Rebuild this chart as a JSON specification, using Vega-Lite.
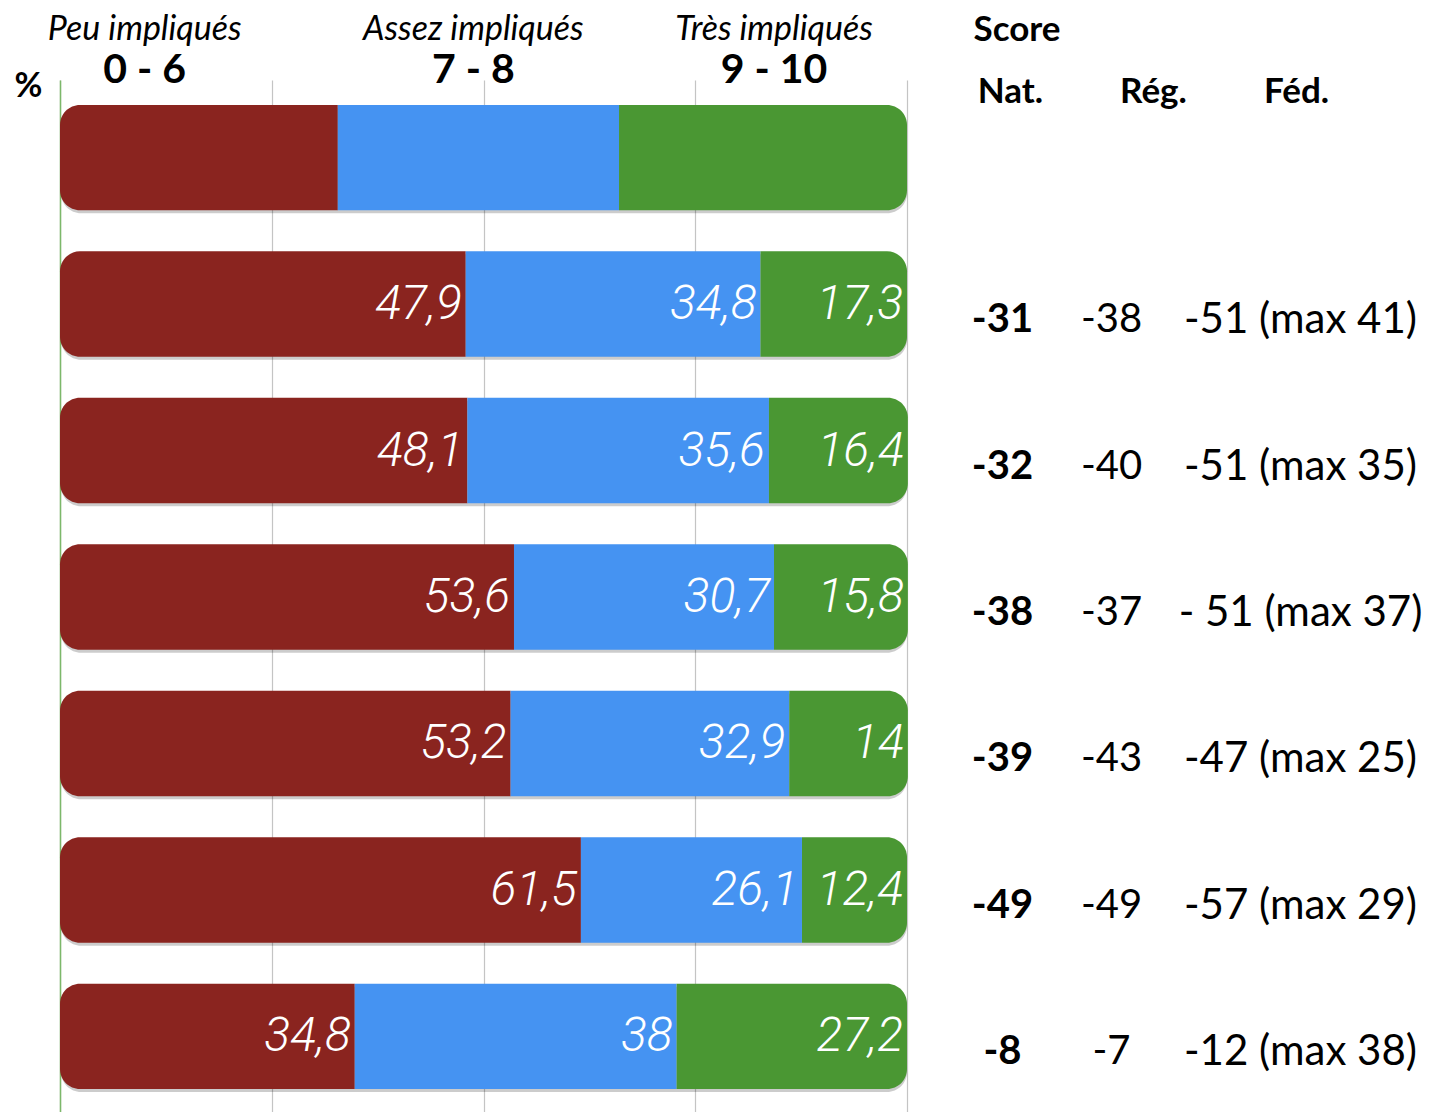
{
  "$schema": "https://vega.github.io/schema/vega-lite/v6.json",
  "padding": {"left": 14, "top": 12, "right": 0, "bottom": 0},
  "spacing": 31,
  "config": {
    "view": {"stroke": null},
    "font": "Lato",
    "locale": {"number": {"decimal": ",", "thousands": " ", "grouping": [3], "currency": ["", " €"], "minus": "-"}}
  },
  "datasets": {
    "bars": [
      {"row": 0, "level": "0 - 6", "order": 1, "pct": 32.8},
      {"row": 0, "level": "7 - 8", "order": 2, "pct": 33.2},
      {"row": 0, "level": "9 - 10", "order": 3, "pct": 34.0},
      {"row": 1, "level": "0 - 6", "order": 1, "pct": 47.9},
      {"row": 1, "level": "7 - 8", "order": 2, "pct": 34.8},
      {"row": 1, "level": "9 - 10", "order": 3, "pct": 17.3},
      {"row": 2, "level": "0 - 6", "order": 1, "pct": 48.1},
      {"row": 2, "level": "7 - 8", "order": 2, "pct": 35.6},
      {"row": 2, "level": "9 - 10", "order": 3, "pct": 16.4},
      {"row": 3, "level": "0 - 6", "order": 1, "pct": 53.6},
      {"row": 3, "level": "7 - 8", "order": 2, "pct": 30.7},
      {"row": 3, "level": "9 - 10", "order": 3, "pct": 15.8},
      {"row": 4, "level": "0 - 6", "order": 1, "pct": 53.2},
      {"row": 4, "level": "7 - 8", "order": 2, "pct": 32.9},
      {"row": 4, "level": "9 - 10", "order": 3, "pct": 14},
      {"row": 5, "level": "0 - 6", "order": 1, "pct": 61.5},
      {"row": 5, "level": "7 - 8", "order": 2, "pct": 26.1},
      {"row": 5, "level": "9 - 10", "order": 3, "pct": 12.4},
      {"row": 6, "level": "0 - 6", "order": 1, "pct": 34.8},
      {"row": 6, "level": "7 - 8", "order": 2, "pct": 38},
      {"row": 6, "level": "9 - 10", "order": 3, "pct": 27.2}
    ],
    "scores": [
      {"row": 1, "nat": -31, "reg": -38, "fed": "-51 (max 41)"},
      {"row": 2, "nat": -32, "reg": -40, "fed": "-51 (max 35)"},
      {"row": 3, "nat": -38, "reg": -37, "fed": "- 51 (max 37)"},
      {"row": 4, "nat": -39, "reg": -43, "fed": "-47 (max 25)"},
      {"row": 5, "nat": -49, "reg": -49, "fed": "-57 (max 29)"},
      {"row": 6, "nat": -8, "reg": -7, "fed": "-12 (max 38)"}
    ],
    "headL": [
      {"group": "Peu impliqués", "range": "0 - 6", "pos": 10},
      {"group": "Assez impliqués", "range": "7 - 8", "pos": 48.8},
      {"group": "Très impliqués", "range": "9 - 10", "pos": 84.3}
    ],
    "headR": [
      {"col": "Nat."},
      {"col": "Rég."},
      {"col": "Féd."}
    ]
  },
  "hconcat": [
    {
      "width": 847,
      "height": 1034,
      "data": {"name": "bars"},
      "transform": [
        {"stack": "pct", "groupby": ["row"], "sort": [{"field": "order", "order": "ascending"}], "as": ["x0", "x1"]}
      ],
      "encoding": {
        "y": {
          "field": "row", "type": "ordinal",
          "scale": {"type": "band", "domain": [0, 1, 2, 3, 4, 5, 6], "paddingInner": 0.28, "paddingOuter": 0.17},
          "axis": {"labels": false, "ticks": false, "domain": true, "domainColor": "#7cb86a", "domainWidth": 1.5, "title": "%", "titleAngle": 0, "titleX": -32, "titleY": 6, "titleAlign": "center", "titleBaseline": "middle", "titleFontSize": 34, "titleFontWeight": "bold", "titleFont": "Lato", "titleColor": "#000"}
        }
      },
      "layer": [
        {
          "transform": [{"filter": "datum.order == 1"}],
          "mark": {"type": "bar", "cornerRadius": 20, "color": "#000000", "opacity": 0.2, "yOffset": 3, "xOffset": 1},
          "encoding": {
            "x": {"datum": 0, "type": "quantitative", "scale": {"domain": [0, 100], "nice": false, "zero": false},
              "axis": {"values": [0, 25, 50, 75, 100], "grid": true, "gridColor": "#c4c4c4", "gridWidth": 1.2, "labels": false, "ticks": false, "domain": false, "title": null}},
            "x2": {"datum": 100}
          }
        },
        {
          "transform": [{"filter": "datum.order == 1"}],
          "mark": {"type": "bar", "cornerRadiusTopLeft": 20, "cornerRadiusBottomLeft": 20},
          "encoding": {
            "x": {"field": "x0", "type": "quantitative"},
            "x2": {"field": "x1"},
            "color": {"field": "level", "type": "nominal", "scale": {"domain": ["0 - 6", "7 - 8", "9 - 10"], "range": ["#8A241F", "#4593F2", "#4A9733"]}, "legend": null}
          }
        },
        {
          "transform": [{"filter": "datum.order == 2"}],
          "mark": {"type": "bar"},
          "encoding": {
            "x": {"field": "x0", "type": "quantitative"},
            "x2": {"field": "x1"},
            "color": {"field": "level", "type": "nominal", "legend": null}
          }
        },
        {
          "transform": [{"filter": "datum.order == 3"}],
          "mark": {"type": "bar", "cornerRadiusTopRight": 20, "cornerRadiusBottomRight": 20},
          "encoding": {
            "x": {"field": "x0", "type": "quantitative"},
            "x2": {"field": "x1"},
            "color": {"field": "level", "type": "nominal", "legend": null}
          }
        },
        {
          "transform": [{"filter": "datum.row > 0"}],
          "mark": {"type": "text", "align": "right", "baseline": "middle", "dx": -4, "dy": 1, "color": "#ffffff", "font": "Liberation Sans Narrow, Roboto", "fontStyle": "italic", "fontWeight": 300, "fontSize": 48},
          "encoding": {
            "x": {"field": "x1", "type": "quantitative"},
            "text": {"field": "pct", "type": "quantitative", "format": ".1~f"}
          }
        },
        {
          "data": {"name": "headL"},
          "mark": {"type": "text", "align": "center", "baseline": "middle", "dy": -128, "font": "Lato", "fontStyle": "italic", "fontSize": 34, "color": "#000"},
          "encoding": {
            "y": {"datum": 0, "type": "ordinal"},
            "x": {"field": "pos", "type": "quantitative"},
            "text": {"field": "group"}
          }
        },
        {
          "data": {"name": "headL"},
          "mark": {"type": "text", "align": "center", "baseline": "middle", "dy": -87, "font": "Lato", "fontWeight": "bold", "fontSize": 41, "color": "#000"},
          "encoding": {
            "y": {"datum": 0, "type": "ordinal"},
            "x": {"field": "pos", "type": "quantitative"},
            "text": {"field": "range"}
          }
        }
      ]
    },
    {
      "width": 429,
      "height": 1034,
      "data": {"name": "scores"},
      "encoding": {
        "y": {"field": "row", "type": "ordinal", "scale": {"type": "band", "domain": [0, 1, 2, 3, 4, 5, 6], "paddingInner": 0.28, "paddingOuter": 0.17}, "axis": null}
      },
      "layer": [
        {
          "mark": {"type": "text", "align": "center", "baseline": "middle", "dx": -8, "dy": 16, "fontSize": 40, "fontWeight": "bold", "font": "Lato", "color": "#000"},
          "encoding": {
            "x": {"datum": "Nat.", "type": "nominal", "scale": {"type": "point", "domain": ["Nat.", "Rég.", "Féd."], "padding": 0.5}, "axis": null},
            "text": {"field": "nat", "type": "quantitative", "format": "d"}
          }
        },
        {
          "mark": {"type": "text", "align": "center", "baseline": "middle", "dx": -42, "dy": 16, "fontSize": 40, "font": "Lato", "color": "#000"},
          "encoding": {
            "x": {"datum": "Rég.", "type": "nominal"},
            "text": {"field": "reg", "type": "quantitative", "format": "d"}
          }
        },
        {
          "mark": {"type": "text", "align": "center", "baseline": "middle", "dx": 4, "dy": 16, "fontSize": 42, "font": "Lato", "color": "#000"},
          "encoding": {
            "x": {"datum": "Féd.", "type": "nominal"},
            "text": {"field": "fed"}
          }
        },
        {
          "data": {"name": "headR"},
          "mark": {"type": "text", "align": "center", "baseline": "middle", "dy": -66, "fontSize": 35, "fontWeight": "bold", "font": "Lato", "color": "#000"},
          "encoding": {
            "y": {"datum": 0, "type": "ordinal"},
            "x": {"field": "col", "type": "nominal"},
            "text": {"field": "col"}
          }
        },
        {
          "data": {"values": [{"label": "Score"}]},
          "mark": {"type": "text", "align": "left", "baseline": "middle", "dx": -37, "dy": -128, "fontSize": 35, "fontWeight": "bold", "font": "Lato", "color": "#000"},
          "encoding": {
            "y": {"datum": 0, "type": "ordinal"},
            "x": {"datum": "Nat.", "type": "nominal"},
            "text": {"field": "label"}
          }
        }
      ]
    }
  ]
}
